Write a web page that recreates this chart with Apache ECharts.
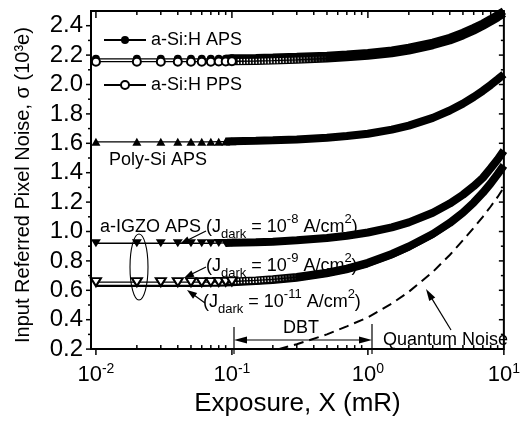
<!DOCTYPE html>
<html><head><meta charset="utf-8">
<script src="https://cdn.jsdelivr.net/npm/echarts@6/dist/echarts.min.js"></script>
<style>html,body{margin:0;padding:0;background:#fff}#c{width:523px;height:422px}</style>
</head><body><div id="c"></div>
<script>
const FONT = '"Liberation Sans", Arial, Helvetica, sans-serif';

// ---- data (exposure in mR, noise in 10^3 e) ----
const exposure = [0.01,0.02,0.03,0.04,0.05,0.06,0.07,0.08,0.09,
                  0.1,0.15,0.2,0.3,0.5,0.7,1,1.5,2,3,4,5,6,7,8,9,10];
const aSiAps  = [2.175,2.175,2.175,2.175,2.175,2.175,2.175,2.176,2.176,
                 2.178,2.180,2.183,2.188,2.196,2.204,2.215,2.232,2.250,2.285,2.318,2.352,2.385,2.415,2.445,2.473,2.500];
const aSiPps  = [2.155,2.155,2.155,2.155,2.155,2.155,2.155,2.156,2.156,
                 2.158,2.160,2.163,2.168,2.177,2.185,2.196,2.213,2.231,2.267,2.300,2.334,2.367,2.398,2.428,2.456,2.483];
const polySi  = [1.610,1.610,1.610,1.610,1.610,1.610,1.610,1.611,1.612,
                 1.614,1.617,1.620,1.626,1.638,1.650,1.665,1.693,1.720,1.773,1.823,1.870,1.915,1.957,1.997,2.035,2.070];
const igzo8   = [0.920,0.920,0.920,0.920,0.920,0.920,0.920,0.921,0.922,
                 0.923,0.927,0.931,0.940,0.956,0.971,0.993,1.028,1.062,1.128,1.190,1.250,1.308,1.365,1.430,1.490,1.550];
const igzo9   = [0.655,0.655,0.655,0.655,0.655,0.655,0.656,0.657,0.658,
                 0.660,0.667,0.675,0.690,0.720,0.748,0.787,0.847,0.898,0.983,1.058,1.128,1.197,1.263,1.327,1.390,1.450];
const igzo11  = [0.630,0.630,0.630,0.630,0.630,0.630,0.631,0.632,0.633,
                 0.635,0.643,0.651,0.666,0.696,0.724,0.763,0.824,0.876,0.962,1.038,1.110,1.180,1.247,1.312,1.375,1.437];
const quantumX     = [0.22,0.3,0.5,0.7,1,1.5,2,3,4,5,6,7,8,9,10];
const quantumNoise = [0.200,0.233,0.300,0.355,0.415,0.510,0.590,0.725,0.840,0.940,1.025,1.100,1.170,1.235,1.300];

// ---- axis ticks ----
const xMajorTicks = [0.01,0.1,1,10];
const xMinorTicks = [0.02,0.03,0.04,0.05,0.06,0.07,0.08,0.09,0.2,0.3,0.4,0.5,0.6,0.7,0.8,0.9,2,3,4,5,6,7,8,9];
const yMajorTicks = [0.2,0.4,0.6,0.8,1.0,1.2,1.4,1.6,1.8,2.0,2.2,2.4];
const yMinorTicks = [0.3,0.5,0.7,0.9,1.1,1.3,1.5,1.7,1.9,2.1,2.3];

const X_MIN = 0.0092, X_MAX = 10, Y_MIN = 0.2, Y_MAX = 2.5;

function markerData(ys){ return exposure.map((x,i)=> x < 0.105 ? [x, ys[i]] : {value:[x, ys[i]], symbol:'none'}); }
function bandData(ys, lo, hi){ return exposure.map((x,i)=>[x, ys[i]]).filter(p=>p[0] >= lo && p[0] <= hi); }
function fadeWhite(stop){
  return new echarts.graphic.LinearGradient(0,0,1,0,[
    {offset:0,color:'rgba(255,255,255,1)'},{offset:stop*0.5,color:'rgba(255,255,255,0.9)'},{offset:1,color:'rgba(255,255,255,0)'}]);
}

const chart = echarts.init(document.getElementById('c'));

const base = {type:'line', silent:true, animation:false};
const series = [
  Object.assign({}, base, {name:'_b1', data:bandData(aSiAps,0.09,10), symbol:'none', lineStyle:{width:8,color:'#000'}, z:2}),
  Object.assign({}, base, {name:'_b2', data:bandData(aSiPps,0.09,10), symbol:'none', lineStyle:{width:8,color:'#000'}, z:3}),
  Object.assign({}, base, {name:'_h2', data:bandData(aSiPps,0.09,0.5), symbol:'none', lineStyle:{width:5.5,color:fadeWhite(1),type:[1.4,1.6]}, z:4}),
  Object.assign({}, base, {name:'_b3', data:bandData(polySi,0.09,10), symbol:'none', lineStyle:{width:8,color:'#000'}, z:2}),
  Object.assign({}, base, {name:'_b4', data:bandData(igzo8,0.09,10), symbol:'none', lineStyle:{width:8,color:'#000'}, z:2}),
  Object.assign({}, base, {name:'_b5', data:bandData(igzo9,0.09,10), symbol:'none', lineStyle:{width:8,color:'#000'}, z:3}),
  Object.assign({}, base, {name:'_h5', data:bandData(igzo9,0.09,0.3), symbol:'none', lineStyle:{width:5,color:fadeWhite(1),type:[1.4,1.6]}, z:4}),
  Object.assign({}, base, {name:'a-IGZO 1e-11', data:exposure.map((x,i)=>[x,igzo11[i]]), symbol:'none', lineStyle:{width:2.2,color:'#000'}, z:4}),
  Object.assign({}, base, {name:'a-Si:H APS', data:markerData(aSiAps), symbol:'circle', symbolSize:8,
    itemStyle:{color:'#000'}, lineStyle:{width:1.3,color:'#000'}, z:5}),
  Object.assign({}, base, {name:'a-Si:H PPS', data:markerData(aSiPps), symbol:'emptyCircle', symbolSize:8,
    itemStyle:{color:'#000', borderWidth:1.2}, lineStyle:{width:1.3,color:'#000'}, z:6}),
  Object.assign({}, base, {name:'Poly-Si APS', data:markerData(polySi), symbol:'triangle', symbolSize:[9,8],
    itemStyle:{color:'#000'}, lineStyle:{width:1.3,color:'#000'}, z:5}),
  Object.assign({}, base, {name:'a-IGZO 1e-8', data:markerData(igzo8), symbol:'triangle', symbolRotate:180, symbolSize:[10,8],
    itemStyle:{color:'#000'}, lineStyle:{width:1.3,color:'#000'}, z:5}),
  Object.assign({}, base, {name:'a-IGZO 1e-9', data:markerData(igzo9), symbol:'emptyTriangle', symbolRotate:180, symbolSize:[10,8],
    itemStyle:{color:'#000', borderWidth:1.2}, lineStyle:{width:1.3,color:'#000'}, z:6}),
  Object.assign({}, base, {name:'Quantum Noise', data:quantumX.map((x,i)=>[x,quantumNoise[i]]), symbol:'none',
    lineStyle:{width:2,color:'#000',type:[10,6]}, z:4}),
  {
    type:'custom', name:'_xticks', silent:true, clip:false, z:10,
    data: xMajorTicks.map(v=>[v, Y_MIN, 0]).concat(xMinorTicks.map(v=>[v, Y_MIN, 1])),
    renderItem:(params, api)=>{
      const X = api.value(0), minor = api.value(2) === 1;
      const b = api.coord([X, Y_MIN]), t = api.coord([X, Y_MAX]);
      const st = {stroke:'#000', lineWidth:1.5};
      return {type:'group', children:[
        {type:'line', shape:{x1:b[0], y1:b[1], x2:b[0], y2:b[1] + (minor ? -4 : 6)}, style:st},
        {type:'line', shape:{x1:t[0], y1:t[1], x2:t[0], y2:t[1] + (minor ? 4 : 7)}, style:st}
      ]};
    }
  },
  {
    type:'custom', name:'_yticks', silent:true, clip:false, z:10,
    data: yMajorTicks.map(v=>[X_MIN, v, 0]).concat(yMinorTicks.map(v=>[X_MIN, v, 1])),
    renderItem:(params, api)=>{
      const v = api.value(1), minor = api.value(2) === 1;
      const l = api.coord([X_MIN, v]), r = api.coord([X_MAX, v]);
      const st = {stroke:'#000', lineWidth:1.5};
      return {type:'group', children:[
        {type:'line', shape:{x1:l[0], y1:l[1], x2:l[0] - (minor ? 3 : 5), y2:l[1]}, style:st},
        {type:'line', shape:{x1:r[0], y1:r[1], x2:r[0] - (minor ? 3 : 5), y2:r[1]}, style:st}
      ]};
    }
  }
];

function arrow(x1,y1,x2,y2,len,w){
  const a = Math.atan2(y2-y1, x2-x1), c = Math.cos(a), s = Math.sin(a);
  return [
    {type:'line', shape:{x1:x1,y1:y1,x2:x2-c*len*0.6,y2:y2-s*len*0.6}, style:{stroke:'#000', lineWidth:1.2}},
    {type:'polygon', shape:{points:[[x2,y2],[x2-c*len+s*w, y2-s*len-c*w],[x2-c*len-s*w, y2-s*len+c*w]]}, style:{fill:'#000'}}
  ];
}
const annRich = {
  n:{fontSize:18, fontFamily:FONT, color:'#000', lineHeight:28},
  sub:{fontSize:13, fontFamily:FONT, color:'#000', verticalAlign:'bottom'},
  sup:{fontSize:13, fontFamily:FONT, color:'#000', verticalAlign:'top'}
};
function annText(x, y, text){
  return {type:'text', x:x, y:y, z:20, style:{text:text, rich:annRich, verticalAlign:'middle', align:'left', fill:'#000'}};
}
const graphics = [
  annText(109, 160, '{n|Poly-Si APS}'),
  annText(100, 227, '{n|a-IGZO APS (J}{sub|dark}{n| = 10}{sup|-8}{n| A/cm}{sup|2}{n|)}'),
  annText(206, 266, '{n|(J}{sub|dark}{n| = 10}{sup|-9}{n| A/cm}{sup|2}{n|)}'),
  annText(203, 302, '{n|(J}{sub|dark}{n| = 10}{sup|-11}{n| A/cm}{sup|2}{n|)}'),
  annText(283, 328, '{n|DBT}'),
  annText(383, 340, '{n|Quantum Noise}'),
  {type:'ellipse', shape:{cx:139, cy:267, rx:9, ry:33}, style:{fill:null, stroke:'#000', lineWidth:1.1}},
  {type:'line', shape:{x1:234,y1:327,x2:234,y2:354}, style:{stroke:'#000', lineWidth:1.2}},
  {type:'line', shape:{x1:372,y1:324,x2:372,y2:354}, style:{stroke:'#000', lineWidth:1.2}},
].concat(
  arrow(300,340,234,340,13,3.5), arrow(300,340,372,340,13,3.5),
  arrow(206,231,180,244,10,3.5), arrow(206,267,184,278,10,3.5), arrow(205,303,187,290,10,3.5),
  arrow(451,330,426,289,12,3.5)
).map(g=>Object.assign({z:20}, g));

chart.setOption({
  animation:false,
  backgroundColor:'#fff',
  grid:{left:91, right:15, top:11, bottom:68, show:true, borderColor:'#000', borderWidth:2, backgroundColor:'transparent'},
  legend:[
    {data:['a-Si:H APS'], left:98, top:26, itemWidth:42, itemHeight:10, selectedMode:false,
     textStyle:{fontSize:18, fontFamily:FONT, color:'#000'}},
    {data:['a-Si:H PPS'], left:98, top:71, itemWidth:42, itemHeight:10, selectedMode:false,
     textStyle:{fontSize:18, fontFamily:FONT, color:'#000'}}
  ],
  xAxis:{
    type:'log', logBase:10, min:X_MIN, max:X_MAX,
    axisLine:{show:false}, axisTick:{show:false}, splitLine:{show:false}, minorTick:{show:false},
    axisLabel:{
      margin:13,
      formatter:(v)=>{ const l = Math.log10(v); const r = Math.round(l);
        return Math.abs(l-r) < 1e-6 ? '{b|10}{s|' + r + '}' : ''; },
      rich:{ b:{fontSize:22, fontFamily:FONT, color:'#000', lineHeight:26},
             s:{fontSize:14, fontFamily:FONT, color:'#000', verticalAlign:'top'} }
    },
    name:'Exposure, X (mR)', nameLocation:'middle', nameGap:36,
    nameTextStyle:{fontSize:26, fontFamily:FONT, color:'#000'}
  },
  yAxis:{
    type:'value', min:Y_MIN, max:Y_MAX, interval:0.2,
    axisLine:{show:false}, axisTick:{show:false}, splitLine:{show:false},
    axisLabel:{ margin:8, fontSize:24, fontFamily:FONT, color:'#000',
      formatter:(v)=> v > 2.45 ? '' : v.toFixed(1) },
    name:'Input Referred Pixel Noise, σ (10³e)', nameLocation:'middle', nameGap:58, nameRotate:90,
    nameTextStyle:{fontSize:20, fontFamily:FONT, color:'#000', padding:[0,10,0,0]}
  },
  series: series,
  graphic: graphics
});
</script></body></html>
